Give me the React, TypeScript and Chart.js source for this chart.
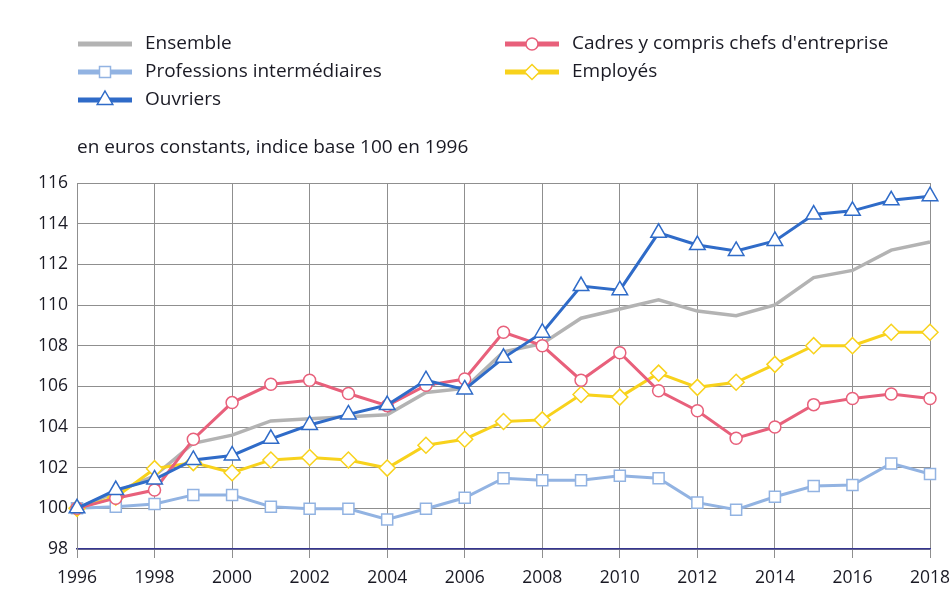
import React, { useEffect, useRef } from 'react';
import { Chart, registerables } from 'chart.js';

Chart.register(...registerables);

const years = [1996, 1997, 1998, 1999, 2000, 2001, 2002, 2003, 2004, 2005, 2006, 2007, 2008, 2009, 2010, 2011, 2012, 2013, 2014, 2015, 2016, 2017, 2018];
const ensemble = [100, 100.8, 101.6, 103.2, 103.6, 104.3, 104.4, 104.5, 104.6, 105.7, 105.9, 107.7, 108.1, 109.35, 109.8, 110.25, 109.7, 109.47, 110.0, 111.35, 111.7, 112.7, 113.1];
const cadres = [100, 100.5, 100.9, 103.4, 105.2, 106.1, 106.3, 105.65, 105.05, 106.05, 106.36, 108.66, 108.0, 106.3, 107.65, 105.78, 104.8, 103.45, 104.0, 105.1, 105.4, 105.62, 105.4];
const professions = [100, 100.08, 100.21, 100.66, 100.66, 100.08, 99.98, 99.98, 99.45, 99.98, 100.52, 101.48, 101.38, 101.38, 101.6, 101.48, 100.28, 99.93, 100.57, 101.1, 101.15, 102.21, 101.69];
const employes = [100, 100.55, 101.95, 102.25, 101.75, 102.38, 102.5, 102.38, 101.98, 103.1, 103.4, 104.27, 104.35, 105.6, 105.47, 106.65, 105.95, 106.2, 107.08, 108.0, 108.0, 108.66, 108.66];
const ouvriers = [100, 100.9, 101.42, 102.38, 102.6, 103.42, 104.1, 104.62, 105.08, 106.3, 105.85, 107.4, 108.64, 110.93, 110.73, 113.55, 112.95, 112.66, 113.15, 114.45, 114.63, 115.15, 115.35];
const yTicks = { min: 98, max: 116, step: 2 };
const xTicks = { min: 1996, max: 2018, step: 2 };

const seriesNames = {
  ensemble: 'Ensemble',
  cadres: "Cadres y compris chefs d'entreprise",
  professions: 'Professions intermédiaires',
  employes: 'Employés',
  ouvriers: 'Ouvriers',
};
const subtitle = 'en euros constants, indice base 100 en 1996';

const COLORS = {
  ensemble: '#b3b3b3',
  cadres: '#e8607b',
  professions: '#92b3e2',
  employes: '#f8d21c',
  ouvriers: '#2f6bc8',
};
const FONT = '"Open Sans", "Noto Sans", sans-serif';
const TEXT = '#1a1a24';

function pts(vals: number[]) {
  return vals.map((v, i) => ({ x: years[i], y: v }));
}

function drawMarker(ctx: CanvasRenderingContext2D, style: string, x: number, y: number, r: number, color: string) {
  ctx.save();
  ctx.fillStyle = '#fff';
  ctx.strokeStyle = color;
  ctx.lineWidth = 1.5;
  ctx.beginPath();
  if (style === 'circle') {
    ctx.arc(x, y, r, 0, Math.PI * 2);
  } else if (style === 'rect') {
    ctx.rect(x - r, y - r, 2 * r, 2 * r);
  } else if (style === 'triangle') {
    const h = r * 1.5;
    const w = r * 1.732;
    ctx.moveTo(x, y - r);
    ctx.lineTo(x + w / 2, y - r + h);
    ctx.lineTo(x - w / 2, y - r + h);
    ctx.closePath();
  } else if (style === 'rectRot') {
    ctx.moveTo(x, y - r);
    ctx.lineTo(x + r, y);
    ctx.lineTo(x, y + r);
    ctx.lineTo(x - r, y);
    ctx.closePath();
  }
  ctx.fill();
  ctx.stroke();
  ctx.restore();
}

const legendPlugin = {
  id: 'customLegend',
  afterDraw(chart: any) {
    const ctx: CanvasRenderingContext2D = chart.ctx;
    ctx.save();
    const items = [
      { name: seriesNames.ensemble, color: COLORS.ensemble, style: '', r: 0, x: 78, y: 44 },
      { name: seriesNames.professions, color: COLORS.professions, style: 'rect', r: 5.5, x: 78, y: 72 },
      { name: seriesNames.ouvriers, color: COLORS.ouvriers, style: 'triangle', r: 9, x: 78, y: 100 },
      { name: seriesNames.cadres, color: COLORS.cadres, style: 'circle', r: 6, x: 505, y: 44 },
      { name: seriesNames.employes, color: COLORS.employes, style: 'rectRot', r: 7.5, x: 505, y: 72 },
    ];
    ctx.font = `19px ${FONT}`;
    ctx.textBaseline = 'middle';
    ctx.textAlign = 'left';
    for (const it of items) {
      ctx.strokeStyle = it.color;
      ctx.lineWidth = 5;
      ctx.beginPath();
      ctx.moveTo(it.x, it.y);
      ctx.lineTo(it.x + 54, it.y);
      ctx.stroke();
      if (it.style) drawMarker(ctx, it.style, it.x + 27, it.y, it.r, it.color);
      ctx.fillStyle = TEXT;
      ctx.fillText(it.name, it.x + 67, it.y);
    }
    ctx.fillText(subtitle, 77, 148);
    ctx.restore();
  },
};

export default function App() {
  const ref = useRef<HTMLCanvasElement>(null);
  useEffect(() => {
    document.body.style.margin = '0';
    const common = { tension: 0, borderWidth: 3, pointBackgroundColor: '#fff', pointBorderWidth: 1.5, clip: false };
    const chart = new Chart(ref.current!, {
      type: 'line',
      data: {
        datasets: [
          { ...common, label: seriesNames.ouvriers, data: pts(ouvriers), borderColor: COLORS.ouvriers, pointBorderColor: COLORS.ouvriers, pointStyle: 'triangle', pointRadius: 9 },
          { ...common, label: seriesNames.cadres, data: pts(cadres), borderColor: COLORS.cadres, pointBorderColor: COLORS.cadres, pointStyle: 'circle', pointRadius: 6 },
          { ...common, label: seriesNames.employes, data: pts(employes), borderColor: COLORS.employes, pointBorderColor: COLORS.employes, pointStyle: 'rectRot', pointRadius: 8 },
          { ...common, label: seriesNames.professions, data: pts(professions), borderColor: COLORS.professions, pointBorderColor: COLORS.professions, pointStyle: 'rect', pointRadius: 7.8 },
          { ...common, label: seriesNames.ensemble, data: pts(ensemble), borderColor: COLORS.ensemble, pointRadius: 0, borderWidth: 3.5 },
        ] as any,
      },
      options: {
        animation: false,
        responsive: false,
        devicePixelRatio: 1,
        layout: { padding: { top: 183, right: 21, left: 0, bottom: 0 } },
        plugins: { legend: { display: false }, tooltip: { enabled: false } },
        scales: {
          x: {
            type: 'linear',
            min: xTicks.min,
            max: xTicks.max,
            afterFit: (s: any) => { s.height = 61; s.paddingLeft = 0; s.paddingRight = 0; },
            ticks: {
              stepSize: xTicks.step,
              color: TEXT,
              font: { family: FONT, size: 17.5 },
              padding: 10,
              maxRotation: 0,
              callback: (v: any) => String(v),
            },
            grid: { color: '#8f8f8f', lineWidth: 1, tickLength: 9, drawTicks: true },
            border: { color: '#35358f', width: 1.5 },
          },
          y: {
            min: yTicks.min,
            max: yTicks.max,
            afterFit: (s: any) => { s.width = 77; s.paddingTop = 0; s.paddingBottom = 0; },
            ticks: {
              stepSize: yTicks.step,
              color: TEXT,
              font: { family: FONT, size: 17.5 },
              padding: 9,
            },
            grid: { color: '#8f8f8f', lineWidth: 1, drawTicks: false },
            border: { color: '#8f8f8f', width: 1 },
          },
        },
      } as any,
      plugins: [legendPlugin],
    });
    return () => chart.destroy();
  }, []);
  return (
    <div style={{ width: 951, height: 610, background: '#fff' }}>
      <canvas ref={ref} width={951} height={610} />
    </div>
  );
}
